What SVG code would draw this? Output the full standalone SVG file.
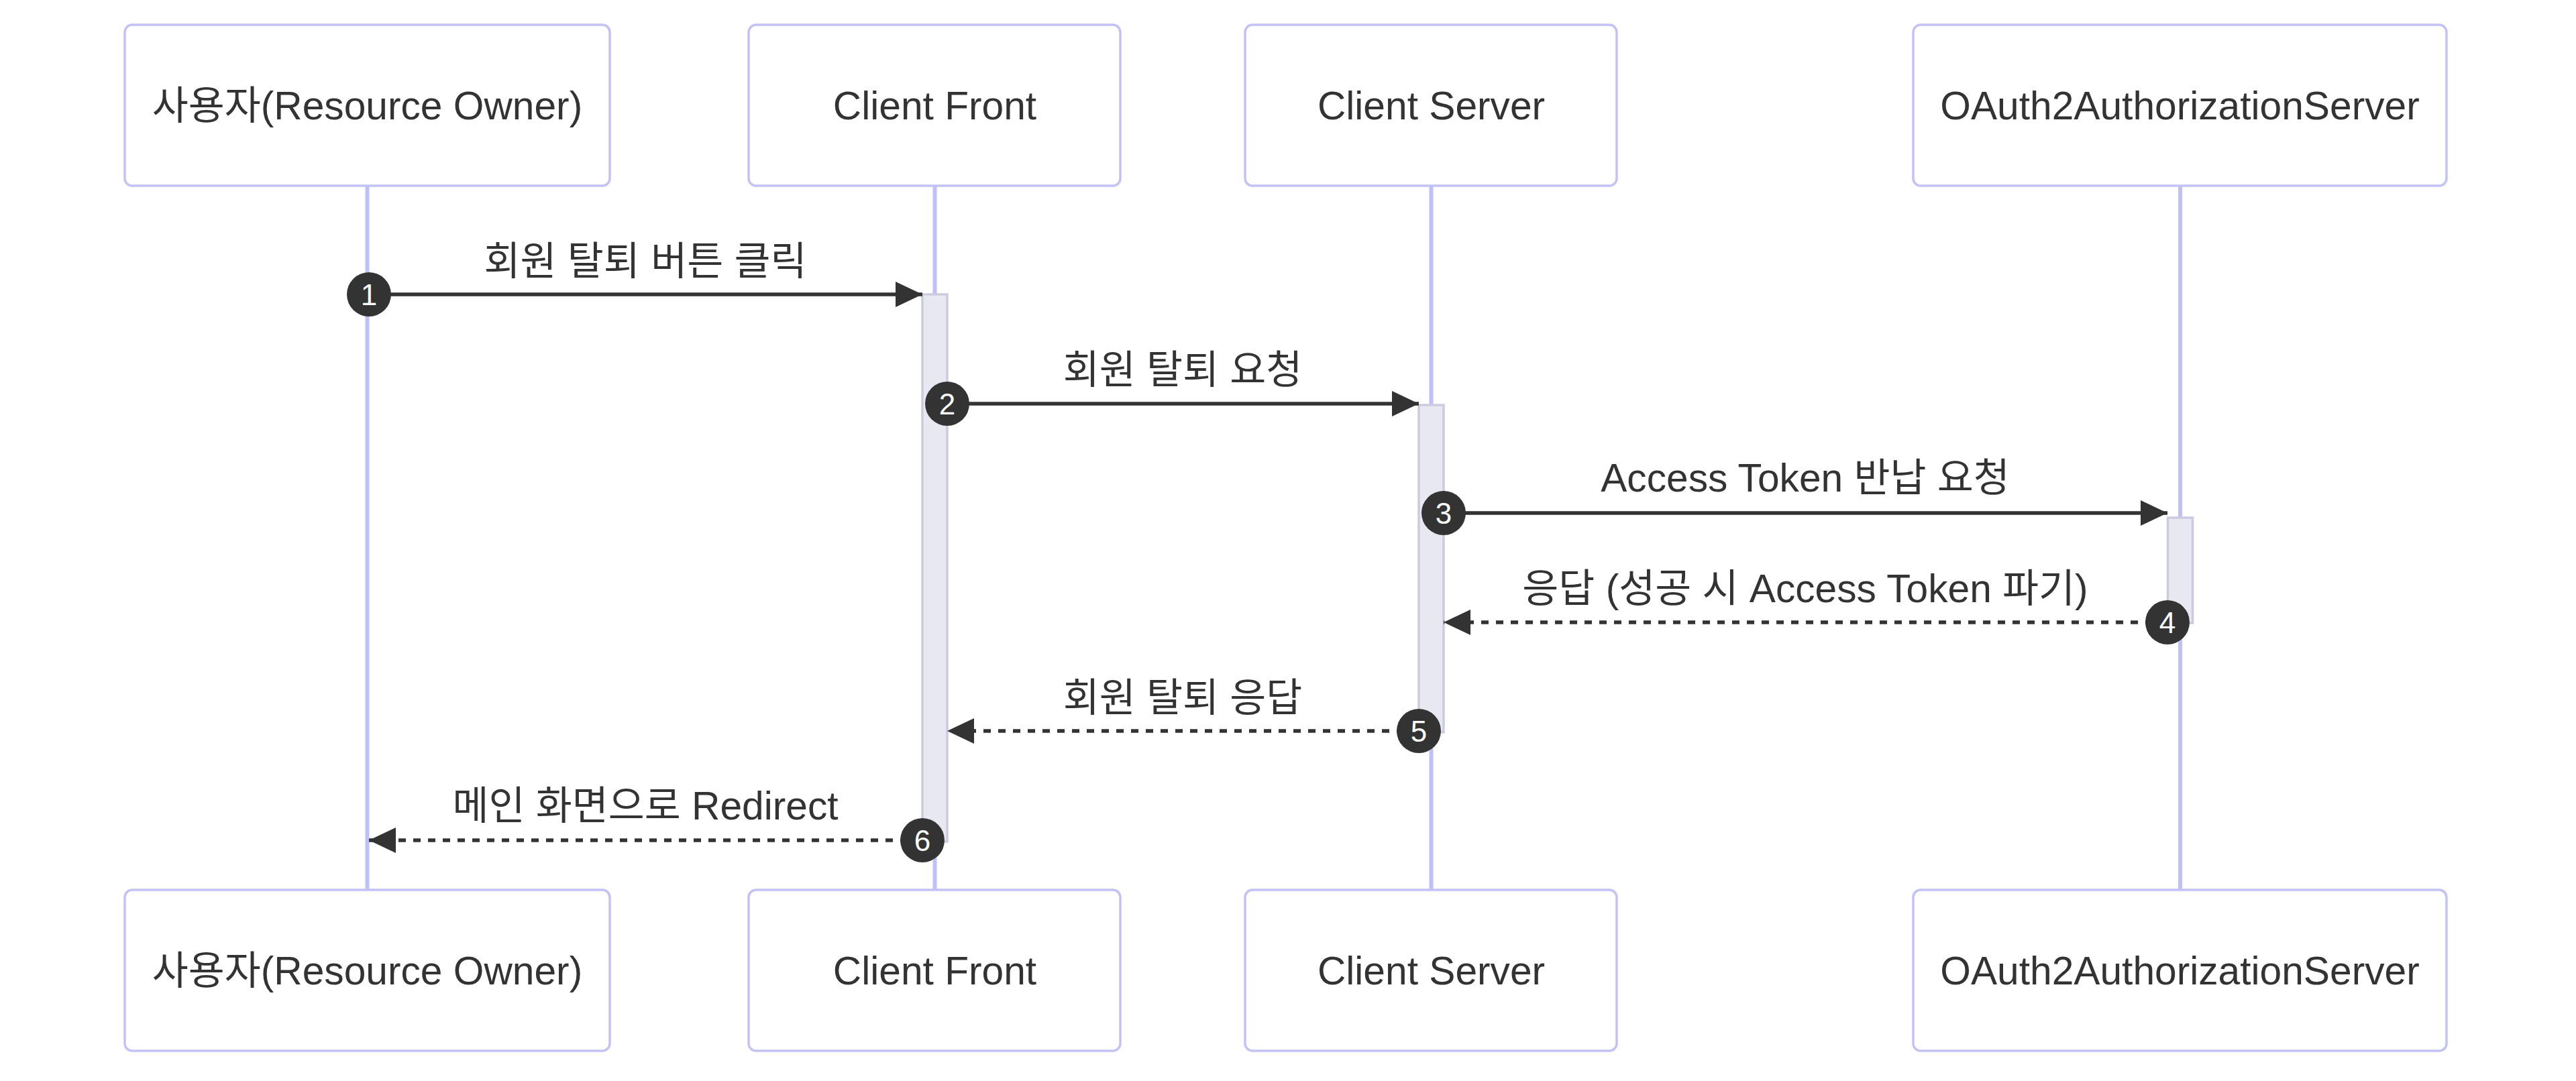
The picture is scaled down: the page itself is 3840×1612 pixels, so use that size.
<svg xmlns="http://www.w3.org/2000/svg" width="3840" height="1612" viewBox="0 0 3840 1612">
<style>
.actor{fill:#ffffff;stroke:#C2C2F7;stroke-width:3.5}
.atext{font-family:"Liberation Sans","Noto Sans CJK KR",Arial,sans-serif;font-size:58.7px;fill:#333333;text-anchor:middle}
.life{stroke:#C0C0F8;stroke-width:6}
.act{fill:#E8E8F3;stroke:#CBCBE0;stroke-width:3.5}
.msg{stroke:#333333;stroke-width:5.5;fill:none}
.dash{stroke-dasharray:11 11}
.mtext{font-family:"Liberation Sans","Noto Sans CJK KR",Arial,sans-serif;font-size:58.7px;fill:#333333;text-anchor:middle}
.num{fill:#333333}
.ntext{font-family:"Liberation Sans",Arial,sans-serif;font-size:44px;fill:#ffffff;text-anchor:middle}
</style>
<defs>
<marker id="arrow" markerUnits="userSpaceOnUse" markerWidth="40" markerHeight="38" refX="40" refY="19" orient="auto">
<path d="M0,0 L40,19 L0,38 Z" fill="#333333"/>
</marker>
</defs>
<rect width="3840" height="1612" fill="#ffffff"/>
<g id="lifelines">
<line class="life" x1="547.5" y1="277" x2="547.5" y2="1327"/>
<line class="life" x1="1393.5" y1="277" x2="1393.5" y2="1327"/>
<line class="life" x1="2133.5" y1="277" x2="2133.5" y2="1327"/>
<line class="life" x1="3250" y1="277" x2="3250" y2="1327"/>
</g>
<g id="actor-user">
<rect class="actor" x="186" y="37" width="723" height="240" rx="11"/>
<text class="atext" x="547.5" y="178">사용자(Resource Owner)</text>
<rect class="actor" x="186" y="1327" width="723" height="240" rx="11"/>
<text class="atext" x="547.5" y="1468">사용자(Resource Owner)</text>
</g>
<g id="actor-front">
<rect class="actor" x="1116" y="37" width="554" height="240" rx="11"/>
<text class="atext" x="1393.5" y="178">Client Front</text>
<rect class="actor" x="1116" y="1327" width="554" height="240" rx="11"/>
<text class="atext" x="1393.5" y="1468">Client Front</text>
</g>
<g id="actor-server">
<rect class="actor" x="1856" y="37" width="554" height="240" rx="11"/>
<text class="atext" x="2133.5" y="178">Client Server</text>
<rect class="actor" x="1856" y="1327" width="554" height="240" rx="11"/>
<text class="atext" x="2133.5" y="1468">Client Server</text>
</g>
<g id="actor-auth">
<rect class="actor" x="2852" y="37" width="795" height="240" rx="11"/>
<text class="atext" x="3249.5" y="178">OAuth2AuthorizationServer</text>
<rect class="actor" x="2852" y="1327" width="795" height="240" rx="11"/>
<text class="atext" x="3249.5" y="1468">OAuth2AuthorizationServer</text>
</g>
<g id="activations">
<rect class="act" x="1375" y="439" width="37" height="816"/>
<rect class="act" x="2115" y="604" width="37" height="488"/>
<rect class="act" x="3231.5" y="772" width="37" height="157"/>
</g>
<g id="connectors">
<line class="msg" x1="550" y1="439" x2="1375" y2="439" marker-end="url(#arrow)"/>
<text class="mtext" x="962" y="410">회원 탈퇴 버튼 클릭</text>
<line class="msg" x1="1412" y1="602" x2="2115" y2="602" marker-end="url(#arrow)"/>
<text class="mtext" x="1763" y="572">회원 탈퇴 요청</text>
<line class="msg" x1="2152" y1="765" x2="3231" y2="765" marker-end="url(#arrow)"/>
<text class="mtext" x="2691" y="733">Access Token 반납 요청</text>
<line class="msg dash" x1="3231" y1="928" x2="2152" y2="928" marker-end="url(#arrow)"/>
<text class="mtext" x="2691" y="898">응답 (성공 시 Access Token 파기)</text>
<line class="msg dash" x1="2115" y1="1090" x2="1412" y2="1090" marker-end="url(#arrow)"/>
<text class="mtext" x="1763" y="1061">회원 탈퇴 응답</text>
<line class="msg dash" x1="1375" y1="1253" x2="550" y2="1253" marker-end="url(#arrow)"/>
<text class="mtext" x="962" y="1222">메인 화면으로 Redirect</text>
</g>
<g id="sequence-numbers">
<circle class="num" cx="550" cy="439" r="33"/><text class="ntext" x="550" y="455">1</text>
<circle class="num" cx="1412" cy="602" r="33"/><text class="ntext" x="1412" y="618">2</text>
<circle class="num" cx="2152" cy="765" r="33"/><text class="ntext" x="2152" y="781">3</text>
<circle class="num" cx="3231" cy="928" r="33"/><text class="ntext" x="3231" y="944">4</text>
<circle class="num" cx="2115" cy="1090" r="33"/><text class="ntext" x="2115" y="1106">5</text>
<circle class="num" cx="1375" cy="1253" r="33"/><text class="ntext" x="1375" y="1269">6</text>
</g>
</svg>
